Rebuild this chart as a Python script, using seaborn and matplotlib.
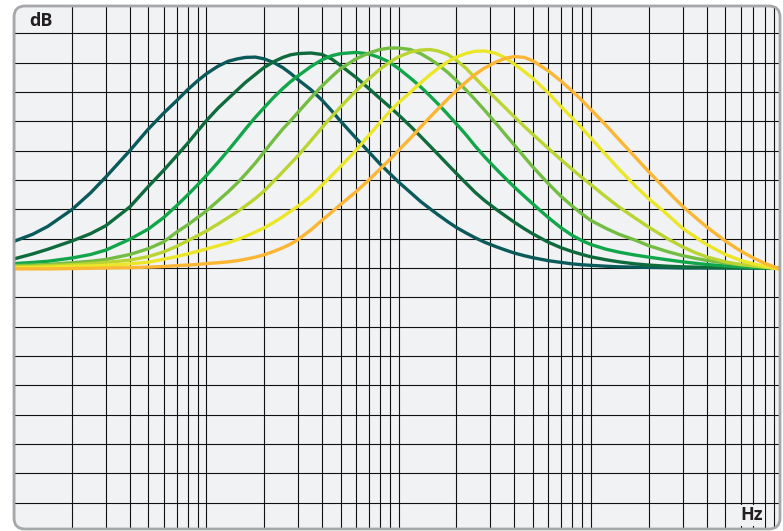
import matplotlib
matplotlib.use("Agg")
import matplotlib.pyplot as plt
import matplotlib.transforms as mtransforms
from matplotlib.patches import FancyBboxPatch
from matplotlib.ticker import FixedLocator, NullFormatter
import pandas as pd
import seaborn as sns

# Frequency points (Hz) at which each band response is sampled
freqs = [10, 12.5, 15, 20, 25, 30, 40, 50, 60, 70,
         80, 90, 100, 115, 130, 145, 160, 180, 200, 225,
         250, 275, 300, 350, 400, 450, 500, 600, 700, 800,
         900, 1000, 1150, 1300, 1450, 1600, 1800, 2000, 2250, 2500,
         2800, 3200, 3600, 4000, 4500, 5000, 6000, 7000, 8000, 9000,
         10000, 12000, 14000, 17000, 20000, 25000, 30000, 35000, 40000, 50000,
         60000, 70000, 80000, 96000]

# Gain (dB) of each peaking band at the frequencies above
band_1 = [0.91, 1.15, 1.42, 1.99, 2.56, 3.10, 4.00, 4.74, 5.28, 5.70,
          6.08, 6.38, 6.62, 6.88, 7.05, 7.13, 7.18, 7.19, 7.13, 7.00,
          6.83, 6.63, 6.42, 6.08, 5.72, 5.35, 5.00, 4.43, 3.96, 3.55,
          3.22, 2.93, 2.58, 2.27, 2.03, 1.82, 1.58, 1.38, 1.19, 1.03,
          0.88, 0.73, 0.61, 0.51, 0.42, 0.35, 0.25, 0.19, 0.14, 0.11,
          0.09, 0.06, 0.04, 0.03, 0.02, 0.01, 0.0, 0.0, 0.0, 0.0,
          0.0, 0.0, 0.0, 0.0]
band_2 = [0.31, 0.48, 0.64, 0.92, 1.17, 1.44, 2.08, 2.78, 3.33, 3.82,
          4.25, 4.66, 5.02, 5.45, 5.78, 6.07, 6.33, 6.60, 6.84, 7.04,
          7.18, 7.27, 7.31, 7.33, 7.28, 7.12, 6.90, 6.50, 6.12, 5.78,
          5.49, 5.22, 4.84, 4.49, 4.17, 3.88, 3.53, 3.22, 2.88, 2.58,
          2.30, 2.01, 1.77, 1.56, 1.34, 1.16, 0.88, 0.69, 0.56, 0.46,
          0.38, 0.28, 0.21, 0.14, 0.10, 0.06, 0.04, 0.03, 0.02, 0.01,
          0.0, 0.0, 0.0, 0.0]
band_3 = [0.15, 0.19, 0.23, 0.34, 0.46, 0.61, 0.98, 1.33, 1.72, 2.12,
          2.49, 2.83, 3.15, 3.60, 4.01, 4.39, 4.74, 5.14, 5.47, 5.83,
          6.12, 6.36, 6.55, 6.87, 7.10, 7.24, 7.31, 7.35, 7.30, 7.17,
          7.01, 6.80, 6.48, 6.18, 5.88, 5.60, 5.24, 4.91, 4.53, 4.16,
          3.79, 3.39, 3.05, 2.76, 2.45, 2.18, 1.72, 1.37, 1.11, 0.93,
          0.80, 0.64, 0.54, 0.44, 0.37, 0.28, 0.21, 0.16, 0.12, 0.07,
          0.04, 0.02, 0.01, 0.0]
band_4 = [0.08, 0.10, 0.12, 0.18, 0.23, 0.29, 0.46, 0.66, 0.89, 1.22,
          1.47, 1.72, 1.94, 2.29, 2.60, 2.90, 3.20, 3.58, 3.96, 4.38,
          4.74, 5.03, 5.31, 5.80, 6.21, 6.53, 6.80, 7.13, 7.33, 7.45,
          7.50, 7.50, 7.45, 7.31, 7.13, 6.94, 6.67, 6.39, 6.06, 5.74,
          5.38, 4.94, 4.54, 4.19, 3.79, 3.44, 2.88, 2.44, 2.11, 1.84,
          1.62, 1.35, 1.15, 0.95, 0.76, 0.56, 0.42, 0.33, 0.26, 0.17,
          0.11, 0.07, 0.03, -0.02]
band_5 = [0.05, 0.06, 0.08, 0.11, 0.15, 0.19, 0.27, 0.39, 0.55, 0.74,
          0.93, 1.10, 1.26, 1.50, 1.72, 1.92, 2.12, 2.37, 2.63, 2.97,
          3.28, 3.57, 3.83, 4.34, 4.79, 5.17, 5.50, 6.04, 6.45, 6.78,
          7.02, 7.20, 7.36, 7.43, 7.45, 7.40, 7.28, 7.08, 6.80, 6.48,
          6.15, 5.78, 5.45, 5.15, 4.83, 4.55, 4.08, 3.69, 3.36, 3.08,
          2.84, 2.42, 2.08, 1.70, 1.39, 1.00, 0.72, 0.52, 0.38, 0.21,
          0.12, 0.07, 0.03, -0.03]
band_6 = [0.01, 0.02, 0.03, 0.06, 0.07, 0.09, 0.14, 0.20, 0.30, 0.39,
          0.48, 0.57, 0.65, 0.76, 0.86, 0.97, 1.08, 1.23, 1.37, 1.56,
          1.75, 1.94, 2.11, 2.45, 2.83, 3.16, 3.47, 4.01, 4.52, 4.96,
          5.34, 5.64, 5.99, 6.31, 6.58, 6.80, 7.03, 7.19, 7.32, 7.39,
          7.40, 7.32, 7.16, 6.95, 6.70, 6.46, 5.97, 5.50, 5.11, 4.76,
          4.43, 3.85, 3.37, 2.80, 2.36, 1.82, 1.35, 1.05, 0.80, 0.46,
          0.26, 0.14, 0.06, -0.04]
band_7 = [-0.03, -0.03, -0.03, -0.02, -0.01, 0.0, 0.01, 0.03, 0.05, 0.08,
          0.10, 0.12, 0.15, 0.18, 0.21, 0.25, 0.30, 0.37, 0.45, 0.57,
          0.69, 0.82, 0.97, 1.30, 1.63, 1.91, 2.17, 2.60, 3.00, 3.37,
          3.70, 4.01, 4.42, 4.80, 5.13, 5.42, 5.76, 6.05, 6.35, 6.60,
          6.82, 7.02, 7.15, 7.21, 7.18, 7.06, 6.72, 6.37, 6.03, 5.71,
          5.40, 4.86, 4.38, 3.78, 3.28, 2.62, 2.10, 1.72, 1.40, 0.92,
          0.58, 0.34, 0.16, -0.03]

band_names = ["Band 1", "Band 2", "Band 3", "Band 4", "Band 5", "Band 6", "Band 7"]
band_colors = ["#0b5a5b", "#0f6b3c", "#12a64b", "#74bd43", "#bbd431", "#ece629", "#fbb634"]

db_ticks = list(range(-8, 9))
hz_major = [10, 100, 1000, 10000]
hz_minor = [m * d for d in (10, 100, 1000, 10000) for m in range(2, 10)]

df = pd.concat(
    [pd.DataFrame({"freq": freqs, "gain": g, "band": n})
     for n, g in zip(band_names, [band_1, band_2, band_3, band_4, band_5, band_6, band_7])],
    ignore_index=True,
)

sns.set_theme(style="white")
plt.rcParams["font.family"] = ["Open Sans", "DejaVu Sans"]

W, H = 783, 531
fig = plt.figure(figsize=(W / 100, H / 100), dpi=100)
fig.patch.set_facecolor("white")

# panel rectangle in pixels (left, right, top, bottom measured from the top edge)
L, R, T, B = 14, 780, 6, 529
ax = fig.add_axes([L / W, (H - B) / H, (R - L) / W, (B - T) / H])
ax.set_facecolor("none")

ident = mtransforms.IdentityTransform()
panel_bg = FancyBboxPatch((L, H - B), R - L, B - T,
                          boxstyle="round,pad=0,rounding_size=11",
                          transform=ident, facecolor="#f1f2f4",
                          edgecolor="none", zorder=-5)
fig.add_artist(panel_bg)
panel_edge = FancyBboxPatch((L, H - B), R - L, B - T,
                            boxstyle="round,pad=0,rounding_size=11",
                            transform=ident, facecolor="none",
                            edgecolor="#a5a7aa", linewidth=2.0, zorder=20)
fig.add_artist(panel_edge)

sns.lineplot(data=df, x="freq", y="gain", hue="band", hue_order=band_names,
             palette=band_colors, estimator=None, sort=False, linewidth=2.4,
             legend=False, ax=ax, zorder=3)
for ln in ax.get_lines():
    ln.set_solid_capstyle("round")
    ln.set_solid_joinstyle("round")

ax.set_xscale("log")
ax.set_xlim(10, 10 ** (1 + (R - L) / 192.3))
ax.set_ylim(-(B - 268) / 29.33, (268 - T) / 29.33)
ax.xaxis.set_major_locator(FixedLocator(hz_major))
ax.xaxis.set_minor_locator(FixedLocator(hz_minor))
ax.yaxis.set_major_locator(FixedLocator(db_ticks))
ax.xaxis.set_major_formatter(NullFormatter())
ax.xaxis.set_minor_formatter(NullFormatter())
ax.yaxis.set_major_formatter(NullFormatter())
ax.tick_params(which="both", length=0)
ax.set_xlabel("")
ax.set_ylabel("")
for s in ax.spines.values():
    s.set_visible(False)

ax.grid(True, which="both", axis="x", color="#111111", linewidth=0.8)
ax.grid(True, which="major", axis="y", color="#111111", linewidth=0.8)
ax.set_axisbelow(True)

fig.canvas.draw()
grid_lines = ([t.gridline for t in ax.xaxis.get_major_ticks()] +
              [t.gridline for t in ax.xaxis.get_minor_ticks()] +
              [t.gridline for t in ax.yaxis.get_major_ticks()])
for gl in grid_lines + list(ax.get_lines()):
    gl.set_clip_path(panel_bg)

fig.text(41 / W, 1 - 21.5 / H, "dB", ha="center", va="center",
         fontsize=13, fontweight="bold", color="#231f20")
fig.text(751.5 / W, 1 - 515.5 / H, "Hz", ha="center", va="center",
         fontsize=13, fontweight="bold", color="#231f20",
         bbox=dict(boxstyle="square,pad=0.1", facecolor="#f1f2f4", edgecolor="none"))

fig.savefig("out.png", dpi=100)
